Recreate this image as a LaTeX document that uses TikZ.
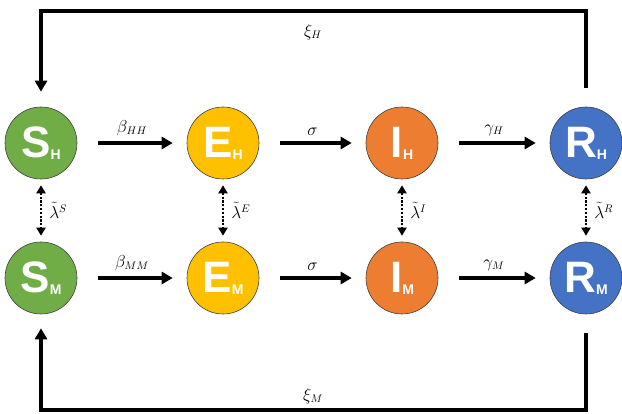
\documentclass[tikz,border=0pt]{standalone}
\usepackage{fontspec}
\usepackage{amsmath}
\newfontfamily\arialbold[Scale=1]{Liberation Sans}
\usetikzlibrary{arrows.meta}
\definecolor{cgreen}{HTML}{70AD47}
\definecolor{cgold}{HTML}{FFC000}
\definecolor{corange}{HTML}{ED7D31}
\definecolor{cblue}{HTML}{4472C4}
\newcommand{\comp}[2]{{\arialbold\bfseries\fontsize{44}{44}\selectfont #1\fontsize{14}{14}\selectfont\raisebox{-2pt}{#2}}}
\begin{document}
\begin{tikzpicture}[x=1pt,y=-1pt,
  state/.style={circle, draw=black!75, line width=0.6pt, minimum size=72pt, inner sep=0pt, text=white},
  arr/.style={line width=3.2pt, -{Triangle[width=12pt,length=11pt]}},
  flow/.style={arr, shorten <=21pt, shorten >=14pt},
  dots/.style={line width=2.6pt, dash pattern=on 2.2pt off 1.6pt, {Triangle[width=9pt,length=8pt]}-{Triangle[width=9pt,length=8pt]}, shorten <=6pt, shorten >=6pt},
  lab/.style={font=\fontsize{16}{16}\selectfont, inner sep=1pt}
]
\useasboundingbox (0,0) rectangle (622,414);
% nodes
\node[state, fill=cgreen]  (SH) at (41,143) {\comp{S}{H}};
\node[state, fill=cgold]   (EH) at (223,143) {\comp{E}{H}};
\node[state, fill=corange] (IH) at (402,143) {\comp{I}{H}};
\node[state, fill=cblue]   (RH) at (586,143) {\comp{R}{H}};
\node[state, fill=cgreen]  (SM) at (41,278) {\comp{S}{M}};
\node[state, fill=cgold]   (EM) at (223,278) {\comp{E}{M}};
\node[state, fill=corange] (IM) at (402,278) {\comp{I}{M}};
\node[state, fill=cblue]   (RM) at (586,278) {\comp{R}{M}};
% horizontal flows
\draw[flow] (SH) -- node[lab, above=5pt] {$\beta_{HH}$} (EH);
\draw[flow] (EH) -- node[lab, above=5pt] {$\sigma$} (IH);
\draw[flow] (IH) -- node[lab, above=5pt] {$\gamma_{H}$} (RH);
\draw[flow] (SM) -- node[lab, above=5pt] {$\beta_{MM}$} (EM);
\draw[flow] (EM) -- node[lab, above=5pt] {$\sigma$} (IM);
\draw[flow] (IM) -- node[lab, above=5pt] {$\gamma_{M}$} (RM);
% vertical dotted
\draw[dots] (SH) -- node[lab, right=6pt] {$\tilde{\lambda}^{S}$} (SM);
\draw[dots] (EH) -- node[lab, right=6pt] {$\tilde{\lambda}^{E}$} (EM);
\draw[dots] (IH) -- node[lab, right=6pt] {$\tilde{\lambda}^{I}$} (IM);
\draw[dots] (RH) -- node[lab, right=6pt] {$\tilde{\lambda}^{R}$} (RM);
% feedback loops
\coordinate (topmid) at (313,11);
\coordinate (botmid) at (313,410);
\draw[arr, shorten <=19pt, shorten >=15pt] (RH.north) |- (topmid) -| (SH.north);
\draw[arr, shorten <=19pt, shorten >=14pt] (RM.south) |- (botmid) -| (SM.south);
\node[lab] (xiH) at (313,32) {$\xi_{H}$};
\node[lab] (xiM) at (313,396) {$\xi_{M}$};
\end{tikzpicture}
\end{document}
